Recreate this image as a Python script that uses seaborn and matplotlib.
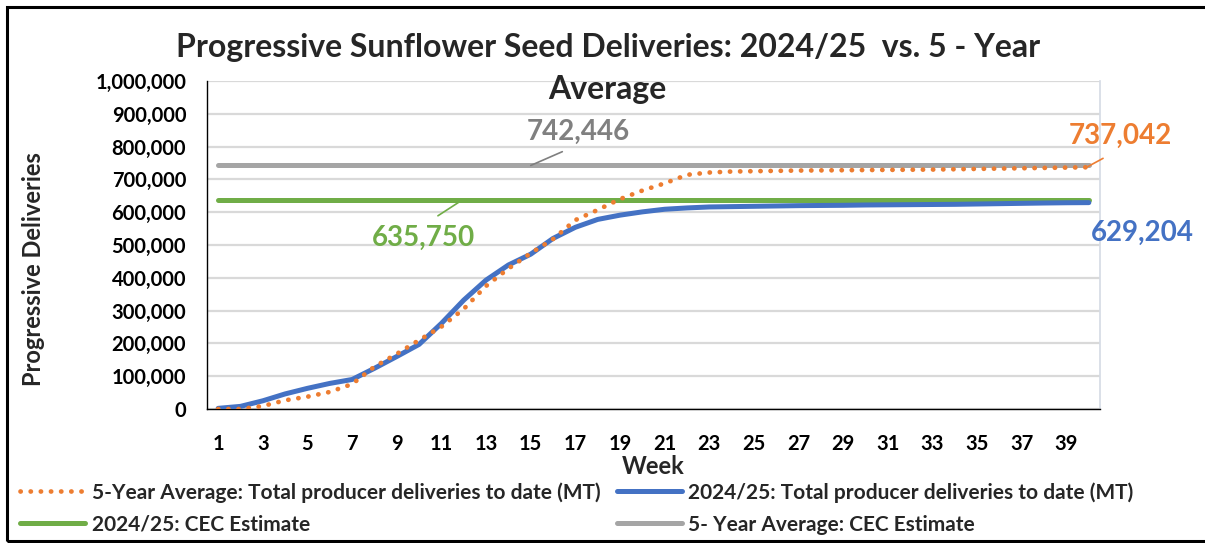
import matplotlib
matplotlib.use("Agg")
import matplotlib.pyplot as plt
import matplotlib.patches as mpatches
from matplotlib.ticker import FuncFormatter, MultipleLocator
import seaborn as sns
import pandas as pd

weeks = list(range(1, 41))
avg5_deliveries = [0, 0, 9000, 26500, 37500, 52000, 76000, 129000, 168000, 210000,
                   251000, 305000, 375000, 428000, 475000, 518000, 576000, 607000, 640000, 666000,
                   688000, 714000, 721000, 724000, 725000, 726000, 727000, 727500, 728000, 728500,
                   729000, 729500, 730000, 731000, 732000, 733000, 734000, 735000, 736000, 737042]
cur_deliveries = [2000, 8000, 25000, 46000, 63000, 78000, 90000, 124000, 160000, 197000,
                  261000, 332000, 393000, 439000, 472000, 520000, 554000, 578000, 591000, 601000,
                  609000, 613000, 616000, 617000, 618000, 619000, 620000, 620500, 621000, 622000,
                  622500, 623000, 623500, 624000, 625000, 626000, 627000, 628000, 628800, 629204]
cur_cec_estimate = 635750
avg5_cec_estimate = 742446

labels = {
    "avg5": "5-Year Average: Total producer deliveries to date (MT)",
    "cur": "2024/25: Total producer deliveries to date (MT)",
    "cur_cec": "2024/25: CEC Estimate",
    "avg5_cec": "5- Year Average: CEC Estimate",
}
colors = {"avg5": "#ED7D31", "cur": "#4472C4", "cur_cec": "#70AD47", "avg5_cec": "#A5A5A5"}

df = pd.DataFrame({
    "week": weeks,
    "avg5": avg5_deliveries,
    "cur": cur_deliveries,
    "cur_cec": [cur_cec_estimate] * len(weeks),
    "avg5_cec": [avg5_cec_estimate] * len(weeks),
})

sns.set_theme(style="white")
FONT = "Lato"
plt.rcParams["font.family"] = [FONT, "DejaVu Sans"]

fig = plt.figure(figsize=(12.05, 5.43), dpi=100)
W, H = 1205, 543
ax = fig.add_axes([207 / W, 1 - 409 / H, (1100 - 207) / W, (409 - 81) / H])

lw = 3.6
sns.lineplot(data=df, x="week", y="avg5_cec", ax=ax, color=colors["avg5_cec"], lw=lw,
             solid_capstyle="round", label=labels["avg5_cec"], zorder=3)
sns.lineplot(data=df, x="week", y="cur_cec", ax=ax, color=colors["cur_cec"], lw=lw,
             solid_capstyle="round", label=labels["cur_cec"], zorder=3)
sns.lineplot(data=df, x="week", y="cur", ax=ax, color=colors["cur"], lw=lw,
             solid_capstyle="round", label=labels["cur"], zorder=4)
sns.lineplot(data=df, x="week", y="avg5", ax=ax, color=colors["avg5"], lw=3.4,
             linestyle=(0, (0.05, 2.1)), dash_capstyle="round", label=labels["avg5"], zorder=5)

ax.set_xlim(0.5, 40.5)
ax.set_ylim(0, 1000000)
ax.yaxis.set_major_locator(MultipleLocator(100000))
ax.yaxis.set_major_formatter(FuncFormatter(lambda v, p: f"{int(v):,}"))
ax.set_xticks(list(range(1, 40, 2)))
ax.grid(axis="y", color="#D9D9D9", lw=1.6)
ax.grid(axis="x", visible=False)
ax.tick_params(axis="both", length=0, labelsize=14.5)
ax.tick_params(axis="x", pad=18)
ax.tick_params(axis="y", pad=15)
for t in ax.get_xticklabels() + ax.get_yticklabels():
    t.set_fontweight("bold")
    t.set_color("black")
ax.spines["top"].set_visible(False)
ax.spines["right"].set_color("#D6DCE5")
ax.spines["left"].set_color("black")
ax.spines["bottom"].set_color("black")
ax.spines["left"].set_linewidth(1.0)
ax.spines["bottom"].set_linewidth(1.0)

ax.set_xlabel("Week", fontsize=17, fontweight="bold", labelpad=1)
ax.set_ylabel("Progressive Deliveries", fontsize=17, fontweight="bold")
ax.yaxis.set_label_coords(-0.181, 0.427)

# data labels with leader lines
ax.annotate(f"{avg5_cec_estimate:,}", xy=(15.0, avg5_cec_estimate), xytext=(17.15, 846000),
            color="#808080", fontsize=20, fontweight="bold", ha="center", va="center",
            arrowprops=dict(arrowstyle="-", color="#7F7F7F", lw=1.2, shrinkA=7, shrinkB=0,
                            relpos=(0.5, 0.0)))
ax.annotate(f"{cur_cec_estimate:,}", xy=(11.9, cur_cec_estimate), xytext=(10.2, 521000),
            color=colors["cur_cec"], fontsize=20, fontweight="bold", ha="center", va="center",
            arrowprops=dict(arrowstyle="-", color=colors["cur_cec"], lw=1.2, shrinkA=8, shrinkB=0,
                            relpos=(0.5, 1.0)))
ax.annotate(f"{avg5_deliveries[-1]:,}", xy=(39.9, avg5_deliveries[-1]), xytext=(41.4, 832000),
            color=colors["avg5"], fontsize=20, fontweight="bold", ha="center", va="center",
            annotation_clip=False,
            arrowprops=dict(arrowstyle="-", color=colors["avg5"], lw=1.2, shrinkA=9, shrinkB=0,
                            relpos=(0.5, 0.0)))
ax.annotate(f"{cur_deliveries[-1]:,}", xy=(40, cur_deliveries[-1]), xytext=(42.4, 537000),
            color=colors["cur"], fontsize=20, fontweight="bold", ha="center", va="center",
            annotation_clip=False)

# title
fig.text(608 / W, 1 - 47 / H, "Progressive Sunflower Seed Deliveries: 2024/25  vs. 5 - Year",
         ha="center", va="center", fontsize=23, fontweight="bold")
fig.text(607 / W, 1 - 90 / H, "Average", ha="center", va="center", fontsize=23, fontweight="bold")

# legend
ax.get_legend().remove()
h, l = ax.get_legend_handles_labels()
order = [labels["avg5"], labels["cur_cec"], labels["cur"], labels["avg5_cec"]]
hd = dict(zip(l, h))
leg = fig.legend([hd[k] for k in order], order, loc="upper left",
                 bbox_to_anchor=(20 / W, 1 - 482 / H), ncol=2, frameon=False,
                 borderpad=0, borderaxespad=0,
                 prop={"family": FONT, "weight": "bold", "size": 15},
                 handlelength=3.12, handletextpad=0.33, columnspacing=0.77, labelspacing=0.58)

# outer frame
fig.patches.append(mpatches.Rectangle((7 / W, 2 / H), 1.1, 1 - 9 / H, transform=fig.transFigure,
                                      fill=False, edgecolor="black", lw=2.2, zorder=10))

fig.savefig("out.png", dpi=100)
